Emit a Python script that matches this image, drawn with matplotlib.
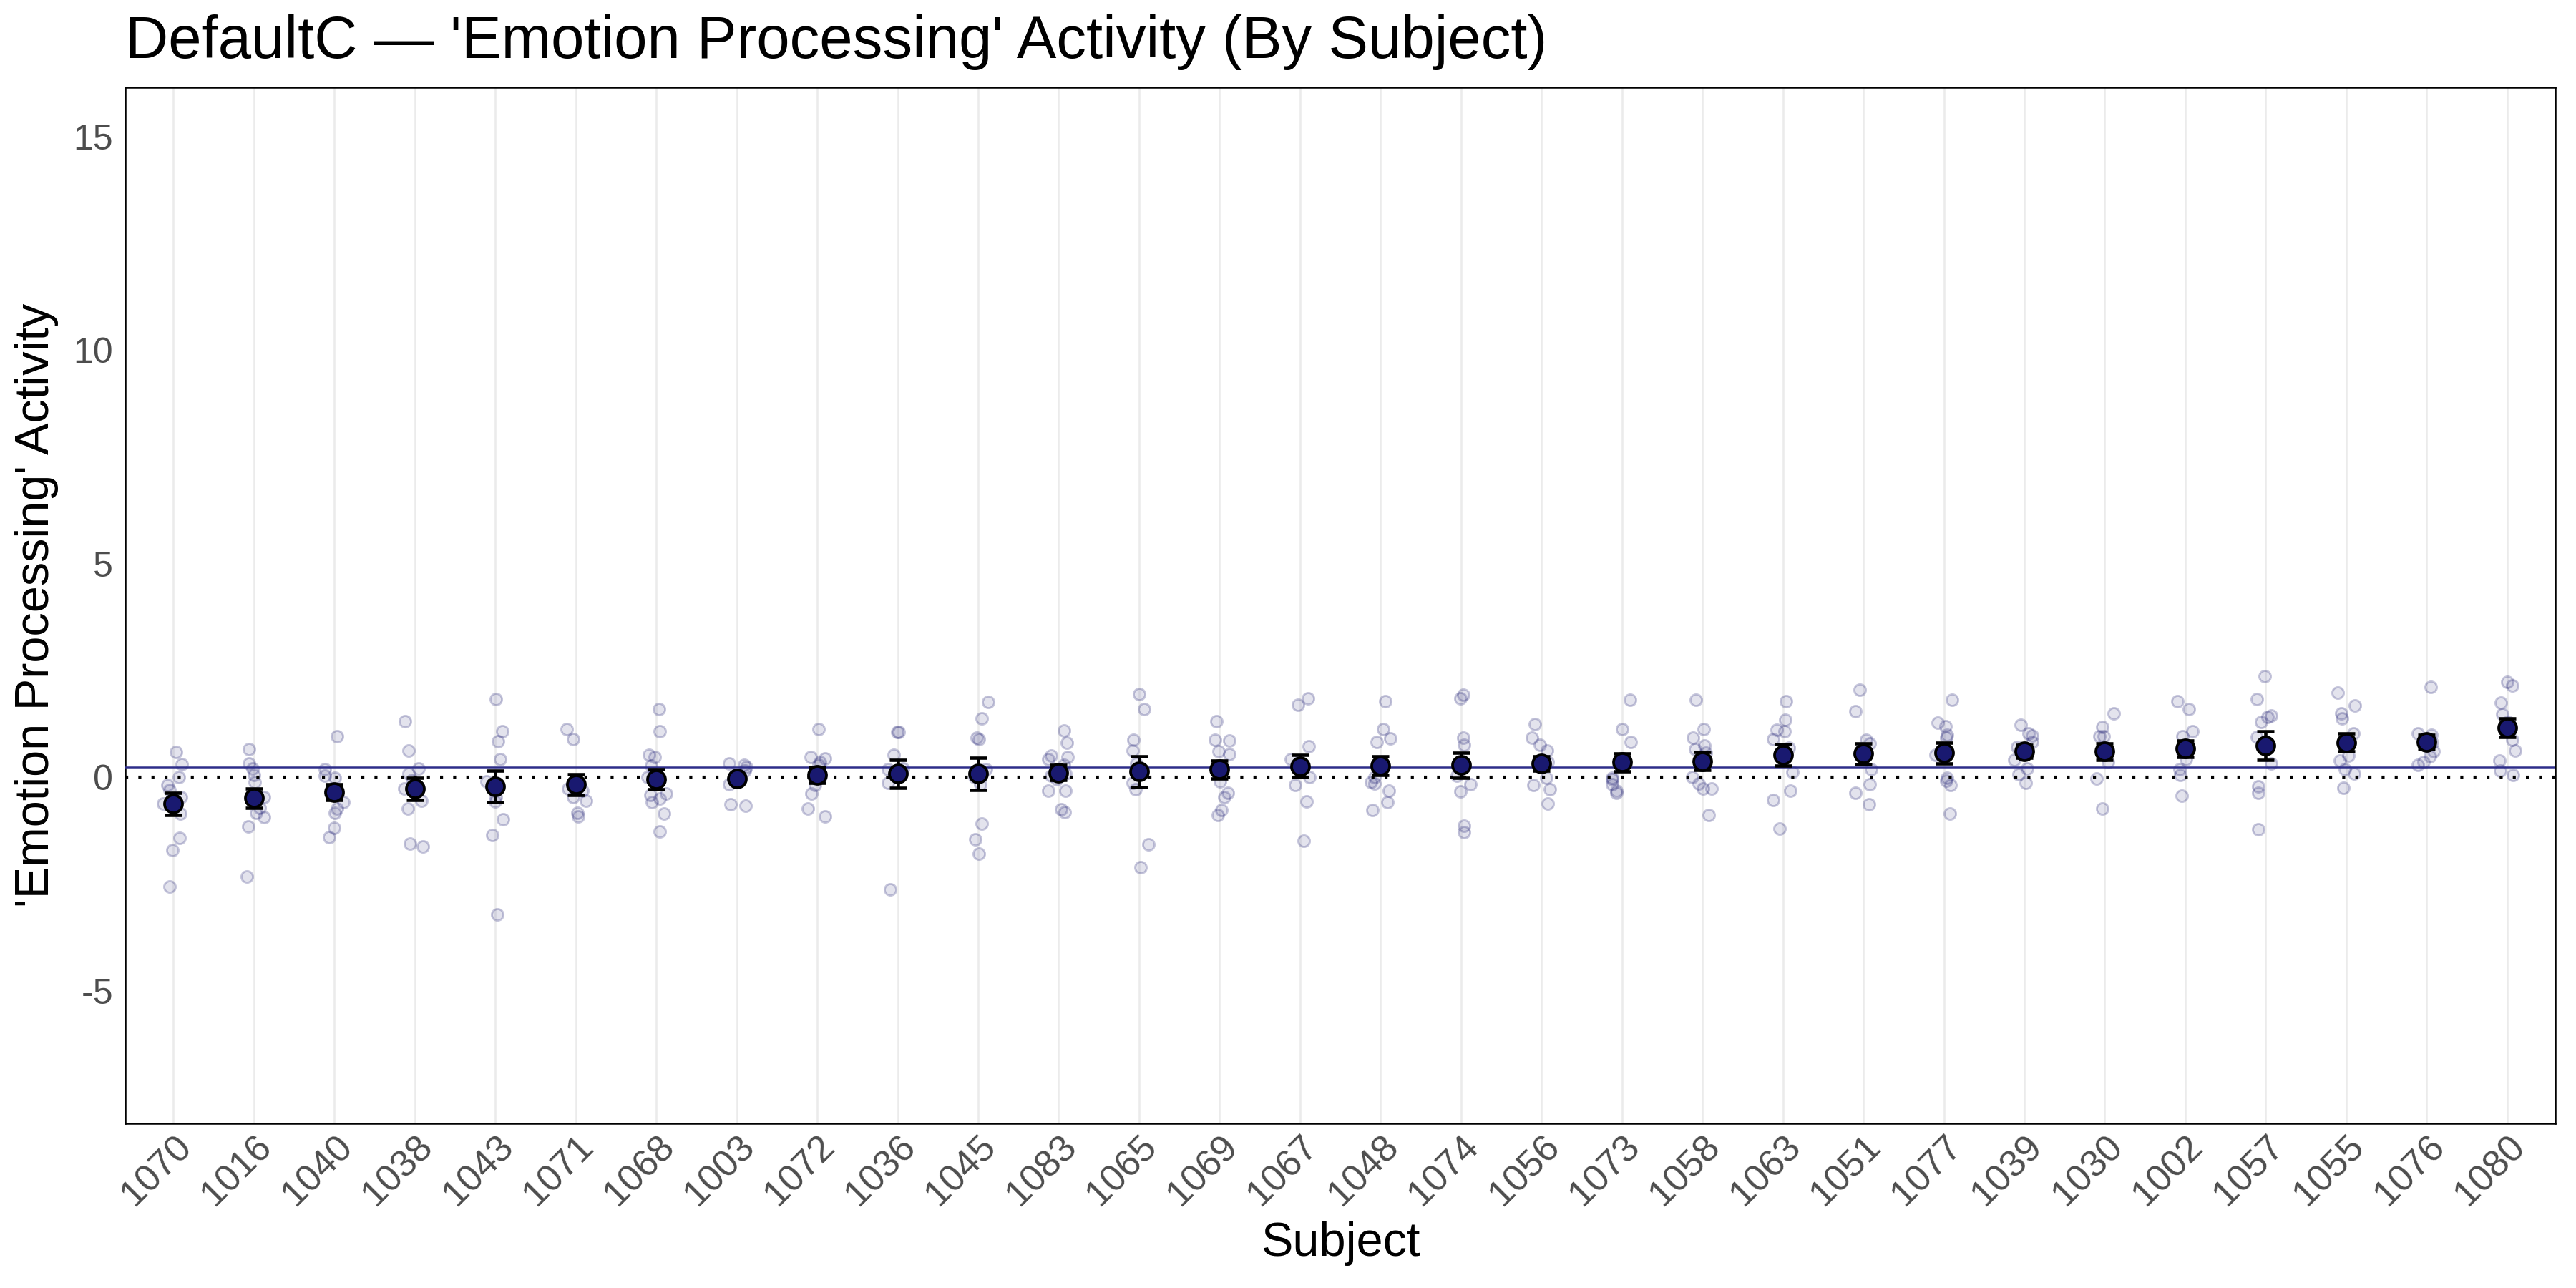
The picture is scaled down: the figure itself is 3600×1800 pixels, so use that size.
import numpy as np
import matplotlib
matplotlib.use("Agg")
import matplotlib.pyplot as plt

plt.rcParams['font.family'] = ['Liberation Sans', 'DejaVu Sans']

subjects = ["1070", "1016", "1040", "1038", "1043", "1071", "1068", "1003", "1072", "1036",
            "1045", "1083", "1065", "1069", "1067", "1048", "1074", "1056", "1073", "1058",
            "1063", "1051", "1077", "1039", "1030", "1002", "1057", "1055", "1076", "1080"]

means = [-0.62, -0.49, -0.35, -0.27, -0.22, -0.17, -0.045, -0.03, 0.056, 0.08,
         0.08, 0.11, 0.13, 0.18, 0.26, 0.27, 0.28, 0.32, 0.35, 0.38,
         0.525, 0.55, 0.57, 0.60, 0.60, 0.67, 0.74, 0.815, 0.82, 1.16]

ses = [0.26, 0.23, 0.19, 0.265, 0.37, 0.24, 0.24, 0.06, 0.18, 0.32,
       0.38, 0.175, 0.36, 0.21, 0.26, 0.22, 0.30, 0.17, 0.21, 0.21,
       0.25, 0.24, 0.24, 0.15, 0.19, 0.19, 0.33, 0.21, 0.17, 0.22]

raw_values = [
    [0.59, 0.30, 0.00, -0.18, -0.30, -0.46, -0.62, -0.85, -1.42, -1.71, -2.56],
    [0.65, 0.33, 0.21, 0.05, -0.12, -0.46, -0.71, -0.83, -0.94, -1.15, -2.32],
    [0.96, 0.18, 0.04, -0.02, -0.35, -0.58, -0.73, -0.83, -1.19, -1.41],
    [1.31, 0.62, 0.20, 0.09, -0.07, -0.27, -0.55, -0.73, -1.55, -1.62],
    [1.83, 1.08, 0.84, 0.42, -0.10, -0.46, -0.56, -0.99, -1.35, -3.21],
    [1.12, 0.89, -0.18, -0.27, -0.32, -0.46, -0.55, -0.83, -0.91],
    [1.59, 1.08, 0.53, 0.47, 0.27, 0.07, 0.01, -0.38, -0.41, -0.50, -0.58, -0.85, -1.27],
    [0.32, 0.29, 0.23, 0.15, 0.01, -0.16, -0.63, -0.66],
    [1.13, 0.47, 0.44, 0.36, 0.29, 0.09, -0.18, -0.38, -0.73, -0.91],
    [1.06, 1.06, 0.53, 0.20, 0.18, 0.10, -0.13, -2.62],
    [1.77, 1.38, 0.92, 0.89, 0.18, 0.01, -0.16, -1.08, -1.46, -1.79],
    [1.10, 0.80, 0.50, 0.47, 0.42, 0.29, 0.09, 0.04, -0.04, -0.31, -0.31, -0.75, -0.82],
    [1.95, 1.59, 0.88, 0.63, 0.32, -0.13, -0.28, -1.57, -2.11],
    [1.31, 0.88, 0.85, 0.60, 0.54, 0.23, -0.10, -0.36, -0.46, -0.77, -0.88],
    [1.85, 1.69, 0.72, 0.43, 0.29, 0.18, 0.01, -0.18, -0.56, -1.49],
    [1.78, 1.13, 0.90, 0.83, 0.26, 0.01, -0.12, -0.14, -0.31, -0.59, -0.76],
    [1.93, 1.85, 0.92, 0.76, 0.04, -0.16, -0.34, -1.14, -1.29],
    [1.25, 0.92, 0.75, 0.63, 0.35, -0.02, -0.18, -0.28, -0.62],
    [1.81, 1.13, 0.82, -0.02, -0.05, -0.17, -0.32, -0.36],
    [1.81, 1.13, 0.93, 0.74, 0.65, 0.57, 0.01, -0.15, -0.27, -0.27, -0.88],
    [1.78, 1.35, 1.11, 1.07, 0.89, 0.69, 0.12, -0.31, -0.54, -1.21],
    [2.04, 1.54, 0.88, 0.79, 0.54, 0.18, -0.17, -0.36, -0.63],
    [1.81, 1.27, 1.20, 1.00, 0.93, 0.53, -0.01, -0.08, -0.18, -0.85],
    [1.22, 1.02, 0.97, 0.83, 0.70, 0.40, 0.21, 0.07, -0.13],
    [1.49, 1.17, 0.96, 0.96, 0.36, -0.03, -0.73],
    [1.78, 1.59, 1.07, 0.96, 0.59, 0.43, 0.18, 0.05, -0.44],
    [2.37, 1.83, 1.45, 1.41, 1.30, 0.95, 0.33, -0.22, -0.37, -1.22],
    [1.98, 1.68, 1.49, 1.37, 1.03, 0.50, 0.39, 0.18, 0.09, -0.25],
    [2.12, 1.03, 1.00, 0.80, 0.60, 0.49, 0.35, 0.29],
    [2.24, 2.15, 1.74, 1.48, 1.30, 0.88, 0.63, 0.39, 0.15, 0.05],
]

grand_mean = 0.23
y_ticks = [-5, 0, 5, 10, 15]

title = "DefaultC \u2014 'Emotion Processing' Activity (By Subject)"
xlabel = "Subject"
ylabel = "'Emotion Processing' Activity"

navy = "#191970"

fig = plt.figure(figsize=(12, 6), dpi=300)
ax = fig.add_axes([0.0486, 0.128, 0.9434, 0.804])

x = np.arange(len(subjects))
rng = np.random.default_rng(7)

# vertical grid
for xi in x:
    ax.axvline(xi, color="#ebebeb", lw=0.6, zorder=0)

# raw points (jittered)
for i, vals in enumerate(raw_values):
    jit = rng.uniform(-0.13, 0.13, len(vals))
    ax.scatter(x[i] + jit, vals, s=15, facecolor=(0.098, 0.098, 0.44, 0.12),
               edgecolor=(0.098, 0.098, 0.44, 0.24), linewidths=0.7, zorder=2)

# reference lines
ax.axhline(0, color="black", lw=1.0, dashes=(1, 3.4), zorder=3)
ax.axhline(grand_mean, color="#2e2e8a", lw=0.6, zorder=3)

# means with SE
ax.errorbar(x, means, yerr=ses, fmt="none", ecolor="black", elinewidth=1.1,
            capsize=2.8, capthick=1.1, zorder=4)
ax.scatter(x, means, s=36, facecolor=navy, edgecolor="black", linewidths=0.9, zorder=5)

ax.set_xlim(-0.6, len(subjects) - 1 + 0.6)
ax.set_ylim(-8.1, 16.15)
ax.set_xticks(x)
ax.set_xticklabels(subjects, rotation=45, ha="right", rotation_mode="anchor")
ax.set_yticks(y_ticks)
ax.set_yticklabels([str(t) for t in y_ticks])
ax.tick_params(axis="both", length=0, labelsize=12, colors="#4d4d4d", pad=4)
ax.tick_params(axis="x", labelsize=12.5, pad=2)

for sp in ax.spines.values():
    sp.set_color("black")
    sp.set_linewidth(0.6)

ax.set_xlabel(xlabel, fontsize=16, labelpad=3)
ax.set_ylabel(ylabel, fontsize=16, labelpad=5)
ax.set_title(title, fontsize=20, loc="left", pad=10)

fig.savefig("out.png", dpi=300)
